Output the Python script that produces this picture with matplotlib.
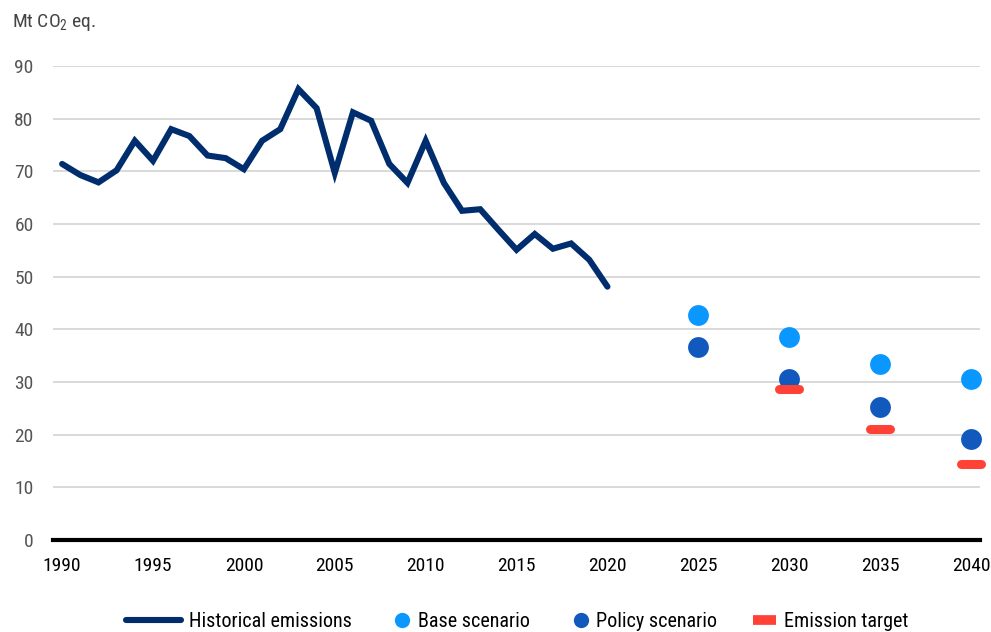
import matplotlib
matplotlib.use("Agg")
import matplotlib.pyplot as plt
from matplotlib.lines import Line2D
from matplotlib.markers import MarkerStyle
from matplotlib.legend_handler import HandlerBase
from matplotlib import font_manager

# ---- data -------------------------------------------------------------
hist_years = list(range(1990, 2021))
hist_values = [71.4, 69.3, 67.9, 70.2, 75.8, 72.0, 78.0, 76.7, 73.0, 72.5,
               70.4, 75.8, 78.0, 85.6, 82.0, 69.7, 81.2, 79.6, 71.4, 67.8,
               75.8, 67.8, 62.5, 62.8, 58.9, 55.1, 58.1, 55.3, 56.3, 53.2,
               48.1]

scen_years = [2025, 2030, 2035, 2040]
base_values = [42.8, 38.5, 33.4, 30.5]
policy_values = [36.7, 30.6, 25.2, 19.2]

target_years = [2030, 2035, 2040]
target_values = [28.6, 21.0, 14.4]

x_ticks = [1990, 1995, 2000, 2005, 2010, 2015, 2020, 2025, 2030, 2035, 2040]
y_ticks = [0, 10, 20, 30, 40, 50, 60, 70, 80, 90]

# ---- style ------------------------------------------------------------
installed = {f.name for f in font_manager.fontManager.ttflist}
family = [f for f in ["Liberation Sans Narrow", "Roboto Condensed", "Liberation Sans"]
          if f in installed][:1] + ["DejaVu Sans"]
plt.rcParams["font.family"] = family
plt.rcParams["mathtext.fontset"] = "custom"
plt.rcParams["mathtext.rm"] = family[0]
plt.rcParams["mathtext.it"] = family[0]

NAVY = "#002D6E"
BASE = "#0A97FF"
POLICY = "#1259BE"
TARGET = "#FF4136"


class RightAlignedKey(HandlerBase):
    """Legend key drawn at the right-hand end of the key box."""

    def create_artists(self, legend, orig_handle, xdescent, ydescent,
                       width, height, fontsize, trans):
        y = (height - ydescent) / 2
        right = width - xdescent
        if orig_handle.get_marker() not in (None, "None", "none", ""):
            r = orig_handle.get_markersize() / 2
            art = Line2D([right - r], [y], ls="none", marker="o",
                         ms=orig_handle.get_markersize(),
                         color=orig_handle.get_color(), mec="none")
        else:
            art = Line2D([right - 0.42 * width, right], [y, y],
                         color=orig_handle.get_color(),
                         lw=orig_handle.get_linewidth(), solid_capstyle="butt")
        art.set_transform(trans)
        return [art]


fig = plt.figure(figsize=(9.91, 6.32), dpi=100)
ax = fig.add_axes([0.0535, 0.1456, 0.9355, 0.75])

ax.plot(hist_years, hist_values, color=NAVY, lw=4.4,
        solid_capstyle="round", solid_joinstyle="miter", zorder=3)
ax.plot(scen_years, base_values, ls="none", marker="o", ms=15,
        color=BASE, mec="none", zorder=4, clip_on=False)
ax.plot(scen_years, policy_values, ls="none", marker="o", ms=15,
        color=POLICY, mec="none", zorder=4, clip_on=False)
bar_marker = MarkerStyle("_", capstyle="round")
ax.plot(target_years, target_values, ls="none", marker=bar_marker, ms=14,
        mew=6.5, color=TARGET, zorder=5, clip_on=False)

ax.set_xlim(1989.5, 2040.5)
ax.set_ylim(0, 90)
ax.set_xticks(x_ticks)
ax.set_yticks(y_ticks)
ax.tick_params(axis="both", length=0, labelsize=14)
ax.tick_params(axis="x", pad=12, labelcolor="black")
ax.tick_params(axis="y", pad=14, labelcolor="#555555")

ax.grid(axis="y", color="#d9d9d9", lw=1.4)
ax.set_axisbelow(True)
for side in ["top", "right", "left"]:
    ax.spines[side].set_visible(False)
ax.spines["bottom"].set_color("black")
ax.spines["bottom"].set_linewidth(3)
ax.spines["bottom"].set_zorder(6)

fig.text(0.012, 0.965, r"Mt CO$_2$ eq.", fontsize=14, color="#444444",
         ha="left", va="center")

key_line = Line2D([], [], color=NAVY, lw=4.4, solid_capstyle="round")
key_base = Line2D([], [], ls="none", marker="o", ms=11, color=BASE)
key_policy = Line2D([], [], ls="none", marker="o", ms=11, color=POLICY)
key_target = Line2D([], [], color=TARGET, lw=7)
handles = [key_line, key_base, key_policy, key_target]
labels = ["Historical emissions", "Base scenario", "Policy scenario", "Emission target"]
fig.legend(handles, labels, loc="center", bbox_to_anchor=(0.522, 0.016), ncol=4,
           frameon=False, fontsize=14.5, handlelength=2.7, handletextpad=0.4,
           columnspacing=0.2,
           handler_map={key_base: RightAlignedKey(),
                        key_policy: RightAlignedKey(),
                        key_target: RightAlignedKey()})

fig.savefig("out.png", dpi=100)
